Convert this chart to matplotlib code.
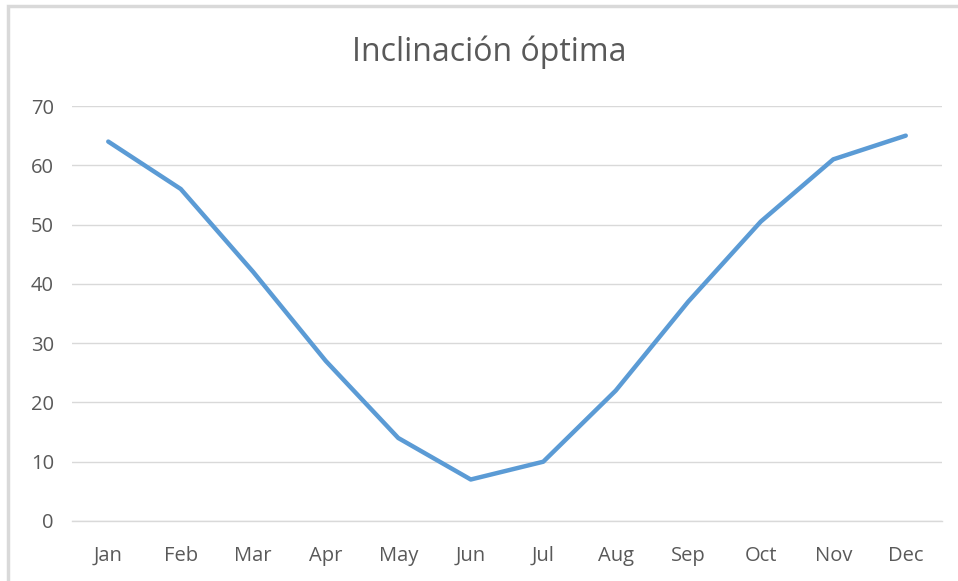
import matplotlib.pyplot as plt
from matplotlib.patches import Rectangle

# datos
months = ["Jan", "Feb", "Mar", "Apr", "May", "Jun",
          "Jul", "Aug", "Sep", "Oct", "Nov", "Dec"]
inclinacion = [64, 56, 42, 27, 14, 7, 10, 22, 37, 50.5, 61, 65]
yticks = [0, 10, 20, 30, 40, 50, 60, 70]

plt.rcParams['font.family'] = ['Open Sans', 'DejaVu Sans']
gray_text = "#595959"
grid_col = "#D9D9D9"

fig = plt.figure(figsize=(9.58, 5.81), dpi=100)
ax = fig.add_axes([72 / 958, 1 - 521 / 581, 870 / 958, 415 / 581])

# borde del grafico
fig.patches.append(Rectangle((8 / 958, -0.05), 1.1, 1 - 6 / 581 + 0.05,
                             transform=fig.transFigure, fill=False,
                             edgecolor="#D9D9D9", linewidth=2.5))

x = list(range(len(months)))
ax.plot(x, inclinacion, color="#5B9BD5", linewidth=3.2, solid_capstyle="round",
        solid_joinstyle="round")

ax.set_xlim(-0.5, 11.5)
ax.set_ylim(0, 70)
ax.set_yticks(yticks)
ax.set_xticks(x)
ax.set_xticklabels(months)

ax.grid(axis="y", color=grid_col, linewidth=1)
ax.set_axisbelow(True)
for s in ["top", "right", "left"]:
    ax.spines[s].set_visible(False)
ax.spines["bottom"].set_color(grid_col)
ax.spines["bottom"].set_linewidth(1)
ax.tick_params(axis="both", length=0, labelsize=14.5, colors=gray_text)
ax.tick_params(axis="y", pad=13)
ax.tick_params(axis="x", pad=18)

fig.text(489 / 958, 1 - 52 / 581, "Inclinación óptima", ha="center", va="center",
         fontsize=23, color=gray_text)

fig.savefig("out.png", dpi=100)
